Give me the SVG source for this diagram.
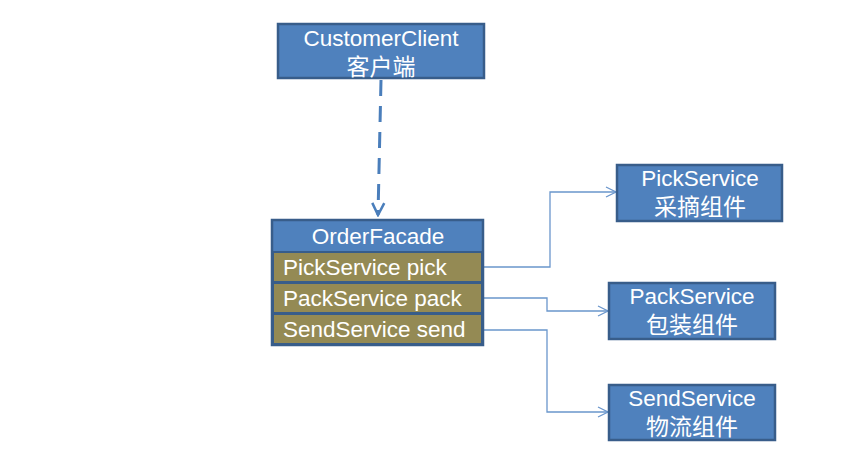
<svg xmlns="http://www.w3.org/2000/svg" width="841" height="469" viewBox="0 0 841 469">
<defs>
<style>
.box{fill:#4f81bd;stroke:#385d8a;stroke-width:2.5}
.row{fill:#948a54;stroke:#385d8a;stroke-width:2}
.t{fill:#fff;font-family:"Liberation Sans","Noto Sans CJK SC",sans-serif;font-size:22.5px}
.c{text-anchor:middle}
.z{font-family:"Noto Sans CJK SC",sans-serif;font-size:23px}
.ln{fill:none;stroke:#6a96cc;stroke-width:1.3}
.dash{fill:none;stroke:#4a7ebb;stroke-width:3;stroke-dasharray:16,10}
</style>
<marker id="ah" viewBox="0 0 12 12" refX="11" refY="6" markerWidth="12" markerHeight="12" markerUnits="userSpaceOnUse" orient="auto">
<path d="M1,1 L11,6 L1,11" fill="none" stroke="#6a96cc" stroke-width="1.3"/>
</marker>
<marker id="ah2" viewBox="0 0 16 16" refX="14" refY="8" markerWidth="16" markerHeight="16" markerUnits="userSpaceOnUse" orient="auto">
<path d="M2,2 L14,8 L2,14" fill="none" stroke="#4a7ebb" stroke-width="2.5"/>
</marker>
</defs>
<rect width="841" height="469" fill="#fff"/>
<g id="connectors">
<path class="dash" d="M381,80 L378,215" marker-end="url(#ah2)"/>
<path class="ln" d="M484,267 H550 V192 H616" marker-end="url(#ah)"/>
<path class="ln" d="M484,298 H547 V311 H608" marker-end="url(#ah)"/>
<path class="ln" d="M484,330 H547 V412 H608" marker-end="url(#ah)"/>
</g>
<g id="customerClient">
<rect class="box" x="278" y="24" width="206" height="54"/>
<text class="t c" x="381" y="46">CustomerClient</text>
<text class="t c z" x="381" y="75">客户端</text>
</g>
<g id="orderFacade">
<rect class="box" x="272" y="220" width="211" height="125"/>
<text class="t c" x="378" y="244">OrderFacade</text>
<rect class="row" x="273" y="252" width="209" height="30"/>
<rect class="row" x="273" y="283" width="209" height="30"/>
<rect class="row" x="273" y="314" width="209" height="30"/>
<text class="t" x="283" y="275">PickService pick</text>
<text class="t" x="283" y="306">PackService pack</text>
<text class="t" x="283" y="337">SendService send</text>
</g>
<g id="pickService">
<rect class="box" x="617" y="165" width="165" height="56"/>
<text class="t c" x="700" y="186">PickService</text>
<text class="t c z" x="700" y="215">采摘组件</text>
</g>
<g id="packService">
<rect class="box" x="609" y="283" width="166" height="56"/>
<text class="t c" x="692" y="304">PackService</text>
<text class="t c z" x="692" y="333">包装组件</text>
</g>
<g id="sendService">
<rect class="box" x="609" y="385" width="166" height="55"/>
<text class="t c" x="692" y="406">SendService</text>
<text class="t c z" x="692" y="435">物流组件</text>
</g>
</svg>
